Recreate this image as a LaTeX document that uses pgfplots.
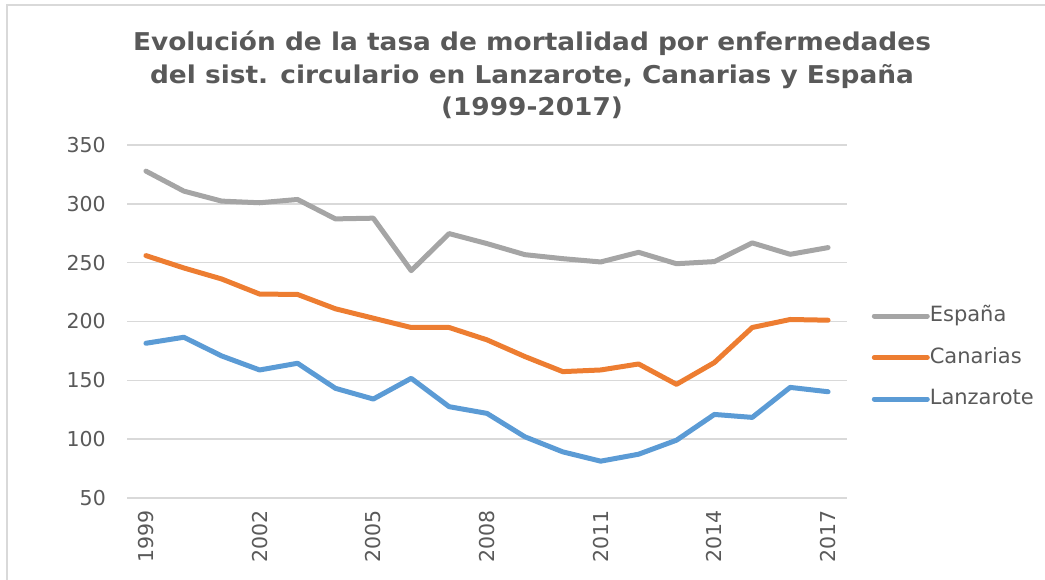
\documentclass[border=0pt]{standalone}
\usepackage{fontspec}
\setmainfont{DejaVu Sans}
\usepackage{graphicx}
\usepackage{pgfplots}
\pgfplotsset{compat=1.18}
\definecolor{txt}{HTML}{595959}
\definecolor{gridc}{HTML}{D9D9D9}
\definecolor{cEsp}{HTML}{A5A5A5}
\definecolor{cCan}{HTML}{ED7D31}
\definecolor{cLan}{HTML}{5B9BD5}
\newcommand{\ttl}[1]{\scalebox{1.077}[1]{#1}}
\begin{document}
\begin{tikzpicture}
\path[use as bounding box] (0,0) rectangle (1045pt,580pt);
\draw[gridc, line width=1.5pt] (7pt,0pt) -- (7pt,575pt) -- (1045pt,575pt);
\node[anchor=base, text=txt, font=\bfseries\fontsize{24.5}{28}\selectfont] at (532pt,529pt) {\ttl{Evolución de la tasa de mortalidad por enfermedades}};
\node[anchor=base, text=txt, font=\bfseries\fontsize{24.5}{28}\selectfont] at (532pt,496pt) {\ttl{del sist. circulario en Lanzarote, Canarias y España}};
\node[anchor=base, text=txt, font=\bfseries\fontsize{24.5}{28}\selectfont] at (532pt,464pt) {\ttl{(1999-2017)}};
\begin{axis}[
  at={(127pt,82pt)}, anchor=south west,
  scale only axis, width=720pt, height=353pt,
  xmin=1998.5, xmax=2017.5, ymin=50, ymax=350,
  xtick={1999,2002,2005,2008,2011,2014,2017},
  ytick={50,100,150,200,250,300,350},
  /pgf/number format/1000 sep={},
  /pgf/number format/assume math mode=true,
  axis line style={draw=none},
  major tick length=0pt,
  ymajorgrids, grid style={gridc, line width=1.4pt},
  ticklabel style={text=txt, font=\fontsize{20.5}{24}\selectfont, inner sep=0pt},
  xticklabel style={rotate=90, anchor=east},
  xticklabel shift=12pt,
  yticklabel shift=21pt,
  legend style={draw=none, fill=none, at={(1.03,0.398)}, anchor=west,
    font=\fontsize{21}{24}\selectfont, text=txt,
    nodes={inner sep=0pt, text height=15pt, text depth=4pt},
    row sep=22.5pt,
    /tikz/column 2/.style={column sep=5pt}},
  legend cell align=left,
  legend image code/.code={\draw[#1, line width=5pt, line cap=round] (0pt,0pt) -- (53pt,0pt);},
  every axis plot/.append style={line width=5pt, line join=round, line cap=round},
]
\addplot[cEsp] coordinates {
(1999,327.8) (2000,310.8) (2001,302.3) (2002,300.9) (2003,303.7) (2004,287.2)
(2005,287.8) (2006,243.2) (2007,274.7) (2008,266.2) (2009,256.8) (2010,253.4)
(2011,250.6) (2012,258.8) (2013,249.1) (2014,250.9) (2015,266.8) (2016,257.1) (2017,262.8)};
\addlegendentry{España}
\addplot[cCan] coordinates {
(1999,256.0) (2000,245.5) (2001,236.1) (2002,223.3) (2003,223.0) (2004,210.8)
(2005,202.8) (2006,194.9) (2007,194.9) (2008,184.4) (2009,170.2) (2010,157.4)
(2011,158.8) (2012,163.9) (2013,146.6) (2014,165.1) (2015,194.9) (2016,201.7) (2017,201.1)};
\addlegendentry{Canarias}
\addplot[cLan] coordinates {
(1999,181.5) (2000,186.6) (2001,170.7) (2002,158.8) (2003,164.5) (2004,143.2)
(2005,134.1) (2006,151.7) (2007,127.6) (2008,121.9) (2009,102.0) (2010,89.2)
(2011,81.3) (2012,87.2) (2013,99.1) (2014,121.0) (2015,118.5) (2016,144.0) (2017,140.3)};
\addlegendentry{Lanzarote}
\end{axis}
\end{tikzpicture}
\end{document}
